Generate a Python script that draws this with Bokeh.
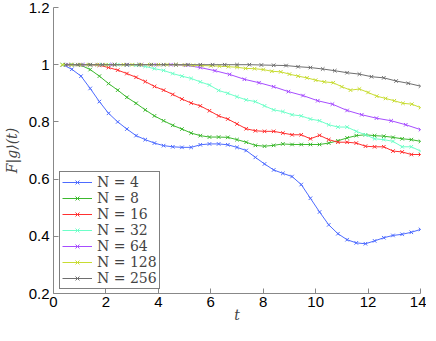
from bokeh.plotting import figure
from bokeh.models import FixedTicker, Legend, LegendItem
from bokeh.embed import file_html
from bokeh.resources import INLINE

# ---- data ----
labels = ["N = 4", "N = 8", "N = 16", "N = 32", "N = 64", "N = 128", "N = 256"]
colors = ["#4d6bff", "#3cb82e", "#ff3030", "#6dffc8", "#a64dff", "#c8dc32", "#6e6e6e"]

t_a = [0.35, 0.7, 1.05, 1.4, 1.75, 2.1, 2.45, 2.8, 3.15, 3.5, 3.85, 4.2, 4.55, 4.9, 5.25,
       5.6, 5.95, 6.3, 6.65, 7.0, 7.35, 7.7, 8.05, 8.4, 8.75, 9.1, 9.45, 9.8, 10.15, 10.5,
       10.85, 11.2, 11.55, 11.9, 12.25, 12.6, 12.95, 13.3, 13.65, 14.0]
t_64 = [0.56, 1.12, 1.68, 2.24, 2.8, 3.36, 3.92, 4.48, 5.04, 5.6, 6.16, 6.72, 7.28, 7.84,
        8.4, 8.96, 9.52, 10.08, 10.64, 11.2, 11.76, 12.32, 12.88, 13.44, 14.0]
t_128 = [0.33, 0.67, 1.0, 1.33, 1.67, 2.0, 2.33, 2.67, 3.0, 3.33, 3.67, 4.0, 4.33, 4.67,
         5.0, 5.33, 5.67, 6.0, 6.33, 6.67, 7.0, 7.33, 7.67, 8.0, 8.33, 8.67, 9.0, 9.33,
         9.67, 10.0, 10.33, 10.67, 11.0, 11.33, 11.67, 12.0, 12.33, 12.67, 13.0, 13.33,
         13.67, 14.0]
t_256 = [0.47, 0.93, 1.4, 1.87, 2.33, 2.8, 3.27, 3.73, 4.2, 4.67, 5.13, 5.6, 6.07, 6.53,
         7.0, 7.47, 7.93, 8.4, 8.87, 9.33, 9.8, 10.27, 10.73, 11.2, 11.67, 12.13, 12.6,
         13.07, 13.53, 14.0]

f_4 = [1.0, 0.984, 0.96, 0.917, 0.871, 0.83, 0.80, 0.775, 0.752, 0.738,
       0.726, 0.717, 0.713, 0.711, 0.711, 0.72, 0.723, 0.723, 0.72, 0.711,
       0.70, 0.676, 0.653, 0.632, 0.62, 0.609, 0.581, 0.533, 0.485, 0.44,
       0.409, 0.388, 0.377, 0.374, 0.384, 0.395, 0.403, 0.407, 0.414, 0.424]
f_8 = [1.0, 1.0, 0.998, 0.983, 0.96, 0.934, 0.911, 0.886, 0.865, 0.842,
       0.821, 0.804, 0.788, 0.775, 0.761, 0.752, 0.747, 0.747, 0.746, 0.738,
       0.729, 0.718, 0.715, 0.718, 0.723, 0.721, 0.721, 0.721, 0.721, 0.726,
       0.734, 0.744, 0.752, 0.755, 0.752, 0.750, 0.746, 0.741, 0.738, 0.732]
f_16 = [1.0, 1.0, 1.0, 1.0, 0.998, 0.99, 0.981, 0.969, 0.956, 0.941,
        0.924, 0.911, 0.896, 0.880, 0.866, 0.856, 0.839, 0.821, 0.810, 0.793,
        0.776, 0.769, 0.767, 0.767, 0.761, 0.755, 0.755, 0.741, 0.753, 0.738,
        0.729, 0.729, 0.726, 0.715, 0.713, 0.713, 0.698, 0.695, 0.686, 0.686]
f_32 = [1.0, 1.0, 1.0, 1.0, 1.0, 1.0, 1.0, 0.999, 0.998, 0.994,
        0.986, 0.980, 0.969, 0.960, 0.952, 0.940, 0.929, 0.910, 0.900, 0.888,
        0.877, 0.871, 0.856, 0.842, 0.836, 0.825, 0.821, 0.810, 0.804, 0.790,
        0.782, 0.782, 0.767, 0.755, 0.741, 0.738, 0.732, 0.713, 0.713, 0.698]
f_64 = [1.0, 1.0, 1.0, 1.0, 1.0, 1.0, 1.0, 1.0, 0.998, 0.990, 0.979, 0.966, 0.949,
        0.937, 0.923, 0.906, 0.892, 0.874, 0.862, 0.840, 0.825, 0.813, 0.804, 0.790, 0.773]
f_128 = [1.0, 1.0, 1.0, 1.0, 1.0, 1.0, 1.0, 1.0, 1.0, 1.0, 1.0, 1.0, 1.0, 1.0,
         0.999, 0.998, 0.997, 0.996, 0.995, 0.993,
         0.991, 0.987, 0.986, 0.983, 0.977, 0.975, 0.967, 0.960, 0.954, 0.946, 0.940,
         0.937, 0.923, 0.911, 0.915, 0.903, 0.890, 0.882, 0.874, 0.865, 0.862, 0.850]
f_256 = [1.0, 1.0, 1.0, 1.0, 1.0, 1.0, 1.0, 1.0, 1.0, 1.0, 1.0, 1.0, 1.0, 1.0, 1.0, 1.0,
         0.999, 0.998, 0.997, 0.993, 0.990, 0.985, 0.979, 0.972, 0.967, 0.958, 0.954,
         0.943, 0.935, 0.925]

x_ticks = [0, 2, 4, 6, 8, 10, 12, 14]
y_ticks = [0.2, 0.4, 0.6, 0.8, 1.0, 1.2]
y_tick_labels = ["0.2", "0.4", "0.6", "0.8", "1", "1.2"]

series = [(t_a, f_4), (t_a, f_8), (t_a, f_16), (t_a, f_32), (t_64, f_64), (t_128, f_128), (t_256, f_256)]

# ---- figure ----
p = figure(frame_width=367, height=325, x_range=(0, 14), y_range=(0.2, 1.2),
           output_backend="svg", toolbar_location=None,
           min_border_left=46, min_border_right=6, min_border_top=7, min_border_bottom=10)
p.outline_line_color = None
p.xgrid.grid_line_color = None
p.ygrid.grid_line_color = None

items = []
for (tt, ff), lab, col in zip(series, labels, colors):
    r1 = p.line(tt, ff, line_color=col, line_width=1)
    r2 = p.scatter(tt, ff, marker="x", size=5, line_color=col, line_width=1)
    items.append(LegendItem(label=lab, renderers=[r1, r2]))

legend = Legend(items=items, location=(6, 4))
legend.border_line_color = "black"
legend.border_line_width = 1
legend.background_fill_color = "white"
legend.background_fill_alpha = 1
legend.label_text_font = "DejaVu Serif"
legend.label_text_font_size = "14px"
legend.label_height = 14
legend.glyph_height = 14
legend.glyph_width = 30
legend.spacing = 0
legend.padding = 2
legend.margin = 0
legend.label_standoff = 5
p.add_layout(legend)

for ax in (p.xaxis[0], p.yaxis[0]):
    ax.axis_line_color = "#888888"
    ax.major_tick_line_color = "#888888"
    ax.major_tick_in = 5
    ax.major_tick_out = 0
    ax.minor_tick_line_color = None
    ax.major_label_text_font = "Liberation Sans"
    ax.major_label_text_font_size = "15px"
    ax.major_label_text_color = "black"
    ax.axis_label_text_font = "DejaVu Serif"
    ax.axis_label_text_font_style = "italic"
    ax.axis_label_text_font_size = "14px"

p.xaxis.ticker = FixedTicker(ticks=x_ticks)
p.yaxis.ticker = FixedTicker(ticks=y_ticks)
p.yaxis.major_label_overrides = {v: s for v, s in zip(y_ticks, y_tick_labels)}
p.xaxis.axis_label = "t"
p.yaxis.axis_label = "F|g⟩(t)"
p.xaxis.major_label_standoff = 3
p.yaxis.major_label_standoff = 4
p.xaxis.axis_label_standoff = -3
p.yaxis.axis_label_standoff = 6

open("out.html", "w").write(file_html(p, INLINE))
